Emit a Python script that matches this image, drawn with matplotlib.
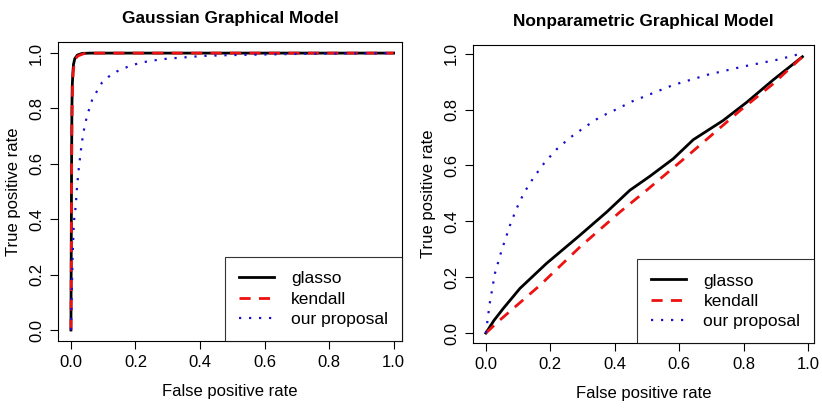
import matplotlib.pyplot as plt
import numpy as np

plt.rcParams['font.family'] = ['Liberation Sans', 'DejaVu Sans']

# Gaussian graphical model ROC curves
g_glasso_fpr = [0.0, 0.001, 0.002, 0.003, 0.004, 0.006, 0.008, 0.012, 0.02, 0.035, 0.06, 1.0]
g_glasso_tpr = [0.0, 0.3, 0.6, 0.8, 0.88, 0.93, 0.96, 0.98, 0.993, 0.999, 1.0, 1.0]
g_kendall_fpr = [0.0, 0.001, 0.002, 0.003, 0.005, 0.007, 0.01, 0.014, 0.022, 0.04, 0.07, 1.0]
g_kendall_tpr = [0.0, 0.25, 0.55, 0.75, 0.87, 0.93, 0.96, 0.98, 0.99, 0.998, 1.0, 1.0]
g_ours_fpr = [0.0, 0.005, 0.009, 0.015, 0.019, 0.024, 0.031, 0.038, 0.05, 0.059, 0.067,
              0.082, 0.096, 0.117, 0.141, 0.166, 0.19, 0.218, 0.245, 0.30, 0.356, 0.413,
              0.5, 0.6, 0.7, 0.8, 0.9, 1.0]
g_ours_tpr = [0.0, 0.26, 0.39, 0.45, 0.52, 0.58, 0.65, 0.71, 0.775, 0.806, 0.836,
              0.865, 0.893, 0.915, 0.933, 0.946, 0.957, 0.965, 0.972, 0.98, 0.985, 0.99,
              0.993, 0.995, 0.997, 0.998, 0.999, 1.0]

# Nonparametric graphical model ROC curves
n_glasso_fpr = [0.0, 0.025, 0.054, 0.106, 0.188, 0.292, 0.375, 0.447, 0.509, 0.582, 0.644,
                0.737, 0.81, 0.892, 0.983]
n_glasso_tpr = [0.0, 0.045, 0.088, 0.16, 0.249, 0.35, 0.433, 0.511, 0.561, 0.624, 0.692,
                0.761, 0.826, 0.906, 0.989]
n_kendall_fpr = [0.0, 0.043, 0.168, 0.292, 0.416, 0.499, 0.634, 0.789, 0.892, 0.983]
n_kendall_tpr = [0.0, 0.046, 0.171, 0.308, 0.433, 0.511, 0.642, 0.796, 0.892, 0.989]
n_ours_fpr = [0.0, 0.012, 0.028, 0.049, 0.075, 0.095, 0.118, 0.149, 0.181, 0.219, 0.261,
              0.307, 0.354, 0.404, 0.454, 0.504, 0.582, 0.69, 0.799, 0.908, 0.965, 0.98]
n_ours_tpr = [0.0, 0.106, 0.213, 0.296, 0.386, 0.445, 0.501, 0.558, 0.608, 0.657, 0.699,
              0.737, 0.773, 0.80, 0.829, 0.852, 0.888, 0.925, 0.954, 0.979, 0.996, 1.0]

ticks = [0.0, 0.2, 0.4, 0.6, 0.8, 1.0]
tick_labels = ['0.0', '0.2', '0.4', '0.6', '0.8', '1.0']
labels = ['glasso', 'kendall', 'our proposal']

fig = plt.figure(figsize=(8.22, 4.08), dpi=100)
ax1 = fig.add_axes([0.0706, 0.164, 0.4185, 0.733])
ax2 = fig.add_axes([0.5754, 0.159, 0.4153, 0.730])


def draw_panel(ax, title, fpr_list, tpr_list, xlim, ylim):
    ax.plot(fpr_list[0], tpr_list[0], color='black', lw=2.0, label=labels[0])
    ax.plot(fpr_list[1], tpr_list[1], color='#ee1111', lw=2.0,
            linestyle=(0, (4, 3)), label=labels[1])
    ax.plot(fpr_list[2], tpr_list[2], color='#1a10cc', lw=1.6,
            linestyle=(0, (1, 3.5)), label=labels[2])
    ax.set_xlim(*xlim)
    ax.set_ylim(*ylim)
    ax.set_xticks(ticks)
    ax.set_xticklabels(tick_labels)
    ax.set_yticks(ticks)
    ax.set_yticklabels(tick_labels, rotation=90, va='center')
    ax.tick_params(direction='out', length=6, width=0.8, labelsize=12, pad=4)
    for s in ax.spines.values():
        s.set_linewidth(0.8)
    ax.set_xlabel('False positive rate', fontsize=12, labelpad=10)
    ax.set_ylabel('True positive rate', fontsize=12, labelpad=6)
    ax.set_title(title, fontsize=12.4, fontweight='bold', pad=14)
    leg = ax.legend(loc='lower right', fontsize=12.5, frameon=True, fancybox=False,
                    borderaxespad=0, handlelength=2.0, handletextpad=1.0,
                    labelspacing=0.3, borderpad=0.8)
    leg.get_frame().set_edgecolor('black')
    leg.get_frame().set_linewidth(0.8)


draw_panel(ax1, 'Gaussian Graphical Model',
           [g_glasso_fpr, g_kendall_fpr, g_ours_fpr],
           [g_glasso_tpr, g_kendall_tpr, g_ours_tpr],
           (-0.04, 1.026), (-0.04, 1.04))
draw_panel(ax2, 'Nonparametric Graphical Model',
           [n_glasso_fpr, n_kendall_fpr, n_ours_fpr],
           [n_glasso_tpr, n_kendall_tpr, n_ours_tpr],
           (-0.04, 1.02), (-0.036, 1.03))

fig.savefig('out.png', dpi=100)
